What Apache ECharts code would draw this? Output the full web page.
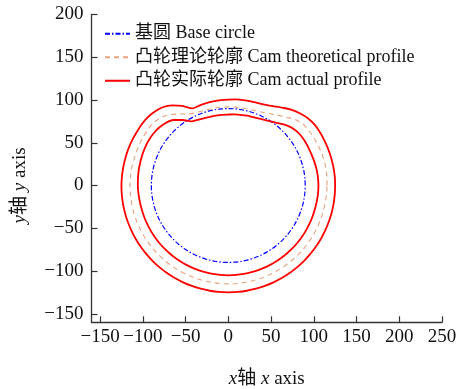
<!DOCTYPE html>
<html>
<head>
<meta charset="utf-8">
<script src="https://cdn.jsdelivr.net/npm/echarts@6/dist/echarts.min.js"></script>
<style>html,body{margin:0;padding:0;background:#fff}#c{width:458px;height:389px}</style>
</head>
<body>
<div id="c"></div>
<script>
// Polar angles (degrees, CCW from +x) at which the profile radii were read
var angles = [0,5,10,15,20,25,30,35,40,45,50,55,60,65,70,75,80,85,90,95,100,105,110,115,120,125,130,135,140,145,150,155,160,165,170,175,180,185,190,195,200,205,210,215,220,225,230,235,240,245,250,255,260,265,270,275,280,285,290,295,300,305,310,315,320,325,330,335,340,345,350,355,360];
// Base circle radius
var baseRadius = 90;
// Cam theoretical profile radius (dashed)
var theoRadius = [115.5,115.8,116,115.8,115.5,115,114.5,114,113,109.5,104.5,100.5,97,94.5,93,92.5,92,92,92,92,92,92,92.5,93.7,96.5,102,108,112,114,114.5,114.5,114.5,114.5,114.5,115,115,115,115,115,115,115,115,115,115,115,115,115,115,115,115,115,115,115,115,115,115,115,115,115,115,115,115,115,115,115,115,115,115,115,115,115.2,115.4,115.5];
// Cam actual profile, outer branch
var outerRadius = [125,125,124.8,124.6,124.4,124.2,124,123.6,122,119,115.5,111,107,104,102.5,102,101.5,101,100.5,100.2,100,99.8,99.5,99.5,107.5,114.5,119.5,122,123.5,124,124,124.3,124.5,124.6,124.7,124.8,125,125,125,125,125,125,125,125,125,125,125,125,125,125,125,125,125,125,125,125,125,125,125,125,125,125,125,125,125,125,125,125,125,125,125,125,125];
// Cam actual profile, inner branch
var innerRadius = [105.5,105.3,105,104.5,104,103.7,103.5,103,101.5,98.5,94.5,91,88,86.3,85,84.5,84,83.5,83,83,83,83.2,83.7,84.8,86.5,93.5,100,103.5,105.5,106.5,107,107,106.8,106.5,106.3,106,105.8,105.5,105.2,105,105,105,105,105,105,105,105,105,105,105,105,105,105,105,105,105,105,105,105,105,105,105,105,105,105,105,105,105,105,105,105.2,105.4,105.5];
// Axis ticks / labels
var xTicks = [-150,-100,-50,0,50,100,150,200,250];
var yTicks = [-150,-100,-50,0,50,100,150,200];
var xRange = [-160, 250];
var yRange = [-160, 200];

var names = ['基圆 Base circle', '凸轮理论轮廓 Cam theoretical profile', '凸轮实际轮廓 Cam actual profile'];

// (radius, angle) table -> (x, y) data values
function xyData(r){
  return angles.map(function(a, i){
    var rr = Array.isArray(r) ? r[i] : r;
    var t = a * Math.PI / 180;
    return [rr * Math.cos(t), rr * Math.sin(t)];
  });
}

var font = '"Liberation Serif", "Times New Roman", "Noto Sans CJK SC", serif';
function fmt(v){ return String(v).replace('-', '\u2212'); }

var chart = echarts.init(document.getElementById('c'));
chart.setOption({
  animation: false,
  textStyle: { fontFamily: font, color: '#111' },
  grid: { left: 91.5, right: 16, top: 14.5, bottom: 66.7, containLabel: false, outerBoundsMode: 'none' },
  xAxis: {
    type: 'value', min: xRange[0], max: xRange[1],
    name: '{i|x}轴 {i|x} axis', nameLocation: 'middle', nameGap: 47,
    nameTextStyle: { fontFamily: font, fontSize: 19, color: '#111', rich: { i: { fontStyle: 'italic', fontFamily: font, fontSize: 19, color: '#111' } } },
    axisLine: { show: true, onZero: false, lineStyle: { color: '#333', width: 1.3 } },
    axisTick: { show: true, inside: true, length: 6, customValues: xTicks, lineStyle: { color: '#333', width: 1.2 } },
    axisLabel: { customValues: xTicks, formatter: fmt, fontFamily: font, fontSize: 19, color: '#111', margin: 5 },
    splitLine: { show: false }
  },
  yAxis: {
    type: 'value', min: yRange[0], max: yRange[1],
    name: '{i|y}轴 {i|y} axis', nameLocation: 'middle', nameGap: 62,
    nameTextStyle: { fontFamily: font, fontSize: 19, color: '#111', padding: [0, 34, 0, 0], rich: { i: { fontStyle: 'italic', fontFamily: font, fontSize: 19, color: '#111' } } },
    axisLine: { show: true, onZero: false, lineStyle: { color: '#333', width: 1.3 } },
    axisTick: { show: true, inside: true, length: 6, customValues: yTicks, lineStyle: { color: '#333', width: 1.2 } },
    axisLabel: { customValues: yTicks, formatter: fmt, fontFamily: font, fontSize: 19, color: '#111', margin: 8 },
    splitLine: { show: false }
  },
  legend: {
    data: names, orient: 'vertical', left: 104, top: 22, padding: 0, itemWidth: 25, itemHeight: 10, itemGap: 0,
    itemStyle: { opacity: 0 },
    textStyle: { fontFamily: font, fontSize: 18, color: '#111', lineHeight: 23.5 }
  },
  series: [
    { name: names[0], type: 'line', data: xyData(baseRadius), smooth: 0.3, symbol: 'none',
      lineStyle: { color: '#0000ff', width: 1.2, type: [5, 2, 1.5, 2] }, itemStyle: { color: '#0000ff' } },
    { name: names[1], type: 'line', data: xyData(theoRadius), smooth: 0.3, symbol: 'none',
      lineStyle: { color: '#e8a27e', width: 1.1, type: [5, 4] }, itemStyle: { color: '#e8a27e' } },
    { name: names[2], type: 'line', data: xyData(outerRadius), smooth: 0.3, symbol: 'none',
      lineStyle: { color: '#ff0000', width: 1.8 }, itemStyle: { color: '#ff0000' } },
    { name: names[2], type: 'line', data: xyData(innerRadius), smooth: 0.3, symbol: 'none',
      lineStyle: { color: '#ff0000', width: 1.8 }, itemStyle: { color: '#ff0000' } }
  ]
});
</script>
</body>
</html>
